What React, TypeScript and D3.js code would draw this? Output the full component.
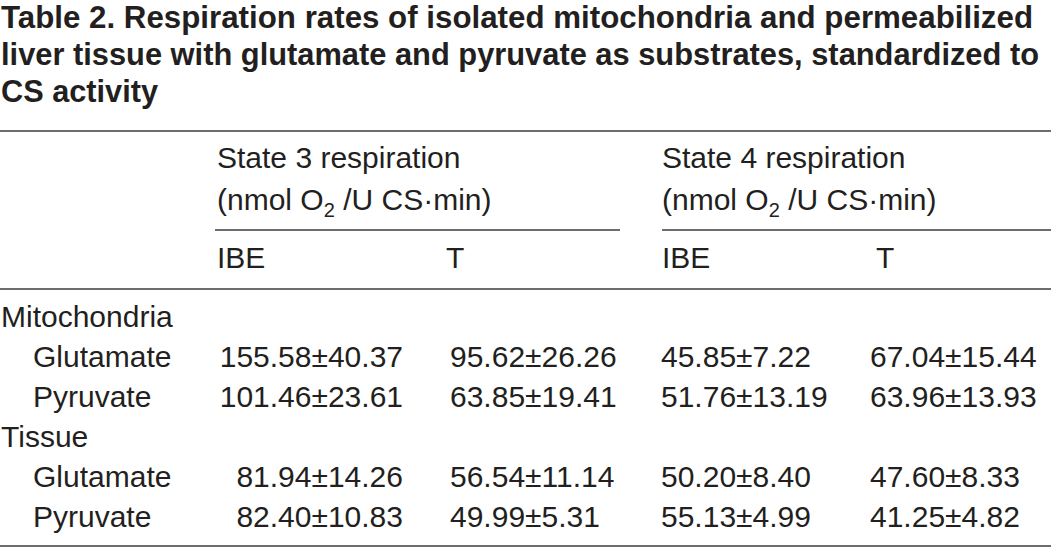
import React from "react";
import * as d3 from "d3";

const titleLines = [
  "Table 2. Respiration rates of isolated mitochondria and permeabilized",
  "liver tissue with glutamate and pyruvate as substrates, standardized to",
  "CS activity",
];
const titleWidths = [1032, 1038, 157];

const stateHeaders = ["State 3 respiration", "State 4 respiration"];
const groupHeaders = ["IBE", "T"];

const rowLabels = ["Mitochondria", "Glutamate", "Pyruvate", "Tissue", "Glutamate", "Pyruvate"];
const rowIndent = [false, true, true, false, true, true];

const state3IBE = ["", "155.58±40.37", "101.46±23.61", "", "81.94±14.26", "82.40±10.83"];
const state3T = ["", "95.62±26.26", "63.85±19.41", "", "56.54±11.14", "49.99±5.31"];
const state4IBE = ["", "45.85±7.22", "51.76±13.19", "", "50.20±8.40", "55.13±4.99"];
const state4T = ["", "67.04±15.44", "63.96±13.93", "", "47.60±8.33", "41.25±4.82"];

const W = 1051;
const H = 548;
const FONT = "'Liberation Sans', Arial, Helvetica, sans-serif";
const INK = "#231f20";
const RULE = "#3c3c3c";

export default function App() {
  const rowIdx = rowLabels.map((_, i) => i);
  const y = d3.scalePoint<number>().domain(rowIdx).range([327, 527]);
  const titleY = d3.scalePoint<number>().domain(titleLines.map((_, i) => i)).range([28, 102]);

  const columns = [
    { values: state3IBE, x: 403, anchor: "end" },
    { values: state3T, x: 450, anchor: "start" },
    { values: state4IBE, x: 661, anchor: "start" },
    { values: state4T, x: 870, anchor: "start" },
  ];
  const stateX = [217, 662];
  const groupX = [
    [217, 446],
    [662, 876],
  ];
  const spanRules = [
    [215, 620],
    [662, W],
  ];

  return (
    <svg
      width={W}
      height={H}
      viewBox={`0 0 ${W} ${H}`}
      style={{ position: "absolute", left: 0, top: 0, background: "#fff" }}
      fontFamily={FONT}
    >
      <rect x={0} y={0} width={W} height={H} fill="#fff" />
      {titleLines.map((t, i) => (
        <text
          key={"t" + i}
          x={1}
          y={titleY(i)}
          fontSize={31}
          fontWeight="bold"
          fill={INK}
          textLength={titleWidths[i]}
          lengthAdjust="spacingAndGlyphs"
        >
          {t}
        </text>
      ))}

      {[131, 289, 546].map((ry, i) => (
        <line key={"r" + i} x1={0} x2={W} y1={ry} y2={ry} stroke={RULE} strokeWidth={1.6} />
      ))}
      {spanRules.map(([a, b], i) => (
        <line key={"s" + i} x1={a} x2={b} y1={230} y2={230} stroke={RULE} strokeWidth={1.4} />
      ))}

      {stateHeaders.map((h, i) => (
        <g key={"h" + i} fill={INK} fontSize={30}>
          <text x={stateX[i]} y={168}>{h}</text>
          <text x={stateX[i]} y={210}>
            (nmol O
            <tspan fontSize={20} dy={7}>2</tspan>
            <tspan dy={-7}> /U CS·min)</tspan>
          </text>
          {groupHeaders.map((g, j) => (
            <text key={g} x={groupX[i][j]} y={268}>{g}</text>
          ))}
        </g>
      ))}

      {rowLabels.map((lab, i) => (
        <text key={"l" + i} x={rowIndent[i] ? 33 : 1} y={y(i)} fontSize={30} fill={INK}>
          {lab}
        </text>
      ))}

      {columns.map((c, ci) =>
        c.values.map((v, i) =>
          v ? (
            <text key={ci + "-" + i} x={c.x} y={y(i)} fontSize={30} fill={INK} textAnchor={c.anchor}>
              {v}
            </text>
          ) : null
        )
      )}
    </svg>
  );
}
